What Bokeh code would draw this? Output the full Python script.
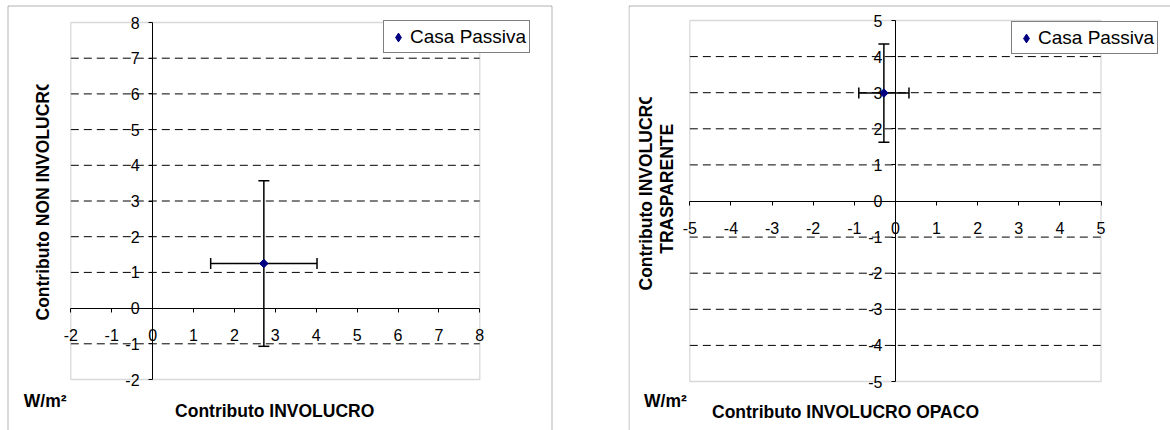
import numpy as np
from bokeh.plotting import figure
from bokeh.models import (ColumnDataSource, Whisker, TeeHead, Label, BoxAnnotation,
                          Legend, LegendItem, FixedTicker, AllLabels, LinearAxis, Range1d)
from bokeh.layouts import row
from bokeh.embed import file_html
from bokeh.resources import INLINE

# ---------------- data ----------------
series_name = "Casa Passiva"
unit_label = "W/m²"

# chart 1
c1_x_ticks = [-2, -1, 0, 1, 2, 3, 4, 5, 6, 7, 8]
c1_y_ticks = [-2, -1, 0, 1, 2, 3, 4, 5, 6, 7, 8]
c1_x_labels = ["-2", "-1", "0", "1", "2", "3", "4", "5", "6", "7", "8"]
c1_y_labels = ["-2", "-1", "0", "1", "2", "3", "4", "5", "6", "7", "8"]
c1_x_vals = [2.72]      # Contributo INVOLUCRO
c1_y_vals = [1.25]      # Contributo NON INVOLUCRO
c1_x_err = [1.30]
c1_y_err = [2.32]
c1_x_title = "Contributo INVOLUCRO"
c1_y_title = "Contributo NON INVOLUCRO"

# chart 2
c2_x_ticks = [-5, -4, -3, -2, -1, 0, 1, 2, 3, 4, 5]
c2_y_ticks = [-5, -4, -3, -2, -1, 0, 1, 2, 3, 4, 5]
c2_x_labels = ["-5", "-4", "-3", "-2", "-1", "0", "1", "2", "3", "4", "5"]
c2_y_labels = ["-5", "-4", "-3", "-2", "-1", "0", "1", "2", "3", "4", "5"]
c2_x_vals = [-0.28]     # Contributo INVOLUCRO OPACO
c2_y_vals = [2.99]      # Contributo INVOLUCRO TRASPARENTE
c2_x_err = [0.61]
c2_y_err = [1.36]
c2_x_title = "Contributo INVOLUCRO OPACO"
c2_y_title = ["Contributo INVOLUCRO", "TRASPARENTE"]

FONT = "Liberation Sans"
H = 430
NAVY = "#000080"


class Mapper:
    """Maps page pixels to data values for a figure whose frame fills its canvas."""
    def __init__(self, ox, oy, w, h, xa, xa_px, xb, xb_px, ya, ya_px, yb, yb_px):
        self.ox, self.oy = ox, oy
        self.kx = (xb_px - xa_px) / (xb - xa)
        self.x0 = xa - (xa_px - ox) / self.kx
        self.x1 = self.x0 + w / self.kx
        self.ky = (yb_px - ya_px) / (ya - yb)
        self.y1 = ya + (ya_px - oy) / self.ky
        self.y0 = self.y1 - h / self.ky

    def x(self, px):
        return self.x0 + (px - self.ox) / self.kx

    def y(self, py):
        return self.y1 - (py - self.oy) / self.ky


def make_chart(m, w, xt, yt, xlab, ylab, xv, yv, xe, ye, fl, ft, fr):
    p = figure(width=w, height=H, x_range=Range1d(m.x0, m.x1), y_range=Range1d(m.y0, m.y1),
               output_backend="svg", toolbar_location=None, min_border=0,
               x_axis_type=None, y_axis_type=None, title=None)
    p.outline_line_color = None
    p.background_fill_color = "white"
    p.border_fill_color = "white"

    # outer chart border
    p.add_layout(BoxAnnotation(left=m.x(fl), right=m.x(fr), top=m.y(ft), bottom=m.y(900),
                               fill_alpha=0, line_color="black", line_width=1,
                               level="underlay"))
    # plot area border
    p.add_layout(BoxAnnotation(left=xt[0], right=xt[-1], bottom=yt[0], top=yt[-1],
                               fill_alpha=0, line_color="#808080", line_width=1.3,
                               level="underlay"))
    # dashed horizontal gridlines
    yg = [v for v in yt[1:-1] if v != 0]
    p.segment(x0=[xt[0]] * len(yg), y0=yg, x1=[xt[-1]] * len(yg), y1=yg,
              line_color="black", line_width=1, line_dash="8 5", level="underlay")

    # error bars
    xa = np.array(xv); ya = np.array(yv)
    src = ColumnDataSource(dict(x=xa, y=ya, xl=xa - np.array(xe), xu=xa + np.array(xe),
                                yl=ya - np.array(ye), yu=ya + np.array(ye)))
    for base, lo, up, dim in (("y", "xl", "xu", "width"), ("x", "yl", "yu", "height")):
        p.add_layout(Whisker(source=src, base=base, lower=lo, upper=up, dimension=dim,
                             line_color="black", line_width=1.5, level="underlay",
                             upper_head=TeeHead(size=11, line_color="black", line_width=1.5),
                             lower_head=TeeHead(size=11, line_color="black", line_width=1.5)))

    # legend-glyph renderer (diamond), hidden beneath the rotated-square marker
    r_leg = p.scatter("x", "y", source=src, marker="diamond", size=3,
                      fill_color=NAVY, line_color=NAVY)
    p.scatter("x", "y", source=src, marker="square", angle=np.pi / 4, size=6,
              fill_color=NAVY, line_color=NAVY)

    # axes crossing at zero
    common = dict(major_tick_in=0, major_tick_out=4, minor_tick_line_color=None,
                  axis_line_color="black", major_tick_line_color="black",
                  major_label_text_font=FONT, major_label_text_font_size="16px",
                  major_label_text_color="black", major_label_policy=AllLabels(),
                  fixed_location=0)
    xax = LinearAxis(bounds=(xt[0], xt[-1]), ticker=FixedTicker(ticks=xt, minor_ticks=[]),
                     major_label_overrides={v: s for v, s in zip(xt, xlab)},
                     major_label_standoff=17, **common)
    yax = LinearAxis(bounds=(yt[0], yt[-1]), ticker=FixedTicker(ticks=yt, minor_ticks=[]),
                     major_label_overrides={v: s for v, s in zip(yt, ylab)},
                     major_label_standoff=9, **common)
    p.add_layout(xax, "below")
    p.add_layout(yax, "left")
    return p, r_leg


def add_legend(p, r, loc):
    lg = Legend(items=[LegendItem(label=series_name, renderers=[r])], location=loc,
                border_line_color="black", border_line_width=1, background_fill_color="white",
                background_fill_alpha=1, padding=3, margin=0, spacing=0,
                glyph_width=22, glyph_height=22, label_standoff=1, label_height=25,
                label_text_font=FONT, label_text_font_size="19px", label_text_color="black")
    p.add_layout(lg)


def title(p, m, text, px, py, align="center", angle=0.0):
    p.add_layout(Label(x=m.x(px), y=m.y(py), text=text, text_font=FONT,
                       text_font_size="17.5px", text_font_style="bold", text_color="black",
                       text_align=align, text_baseline="middle", angle=angle))


def mask(p, m, l, r, t, b):
    p.add_layout(BoxAnnotation(left=m.x(l), right=m.x(r), top=m.y(t), bottom=m.y(b),
                               fill_color="white", fill_alpha=1, line_color=None))


# ---------------- chart 1 ----------------
W1 = 628
m1 = Mapper(0, 0, W1, H, -2, 70.3, 8, 479.3, 8, 22.0, -2, 379.0)
p1, r1 = make_chart(m1, W1, c1_x_ticks, c1_y_ticks, c1_x_labels, c1_y_labels,
                    c1_x_vals, c1_y_vals, c1_x_err, c1_y_err, 7.5, 5.5, 551.5)
add_legend(p1, r1, (383, H - 53))
title(p1, m1, c1_x_title, 274.2, 410)
title(p1, m1, unit_label, 23.3, 400, align="left")
title(p1, m1, c1_y_title, 42, 320, align="left", angle=np.pi / 2)
mask(p1, m1, 22, 62, 8, 84)

# ---------------- chart 2 ----------------
W2 = 542
m2 = Mapper(628, 0, W2, H, -5, 689.3, 5, 1100.5, 5, 20.0, -5, 381.0)
p2, r2 = make_chart(m2, W2, c2_x_ticks, c2_y_ticks, c2_x_labels, c2_y_labels,
                    c2_x_vals, c2_y_vals, c2_x_err, c2_y_err, 628.5, 5.5, 1400)
add_legend(p2, r2, (1011 - 628, H - 54))
title(p2, m2, c2_x_title, 845, 411.7)
title(p2, m2, unit_label, 643.6, 400, align="left")
title(p2, m2, c2_y_title[0], 645, 290, align="left", angle=np.pi / 2)
title(p2, m2, c2_y_title[1], 666.7, 188.3, align="center", angle=np.pi / 2)
mask(p2, m2, 634, 656, 8, 96.7)

layout = row(p1, p2)
open("out.html", "w").write(file_html(layout, INLINE))
